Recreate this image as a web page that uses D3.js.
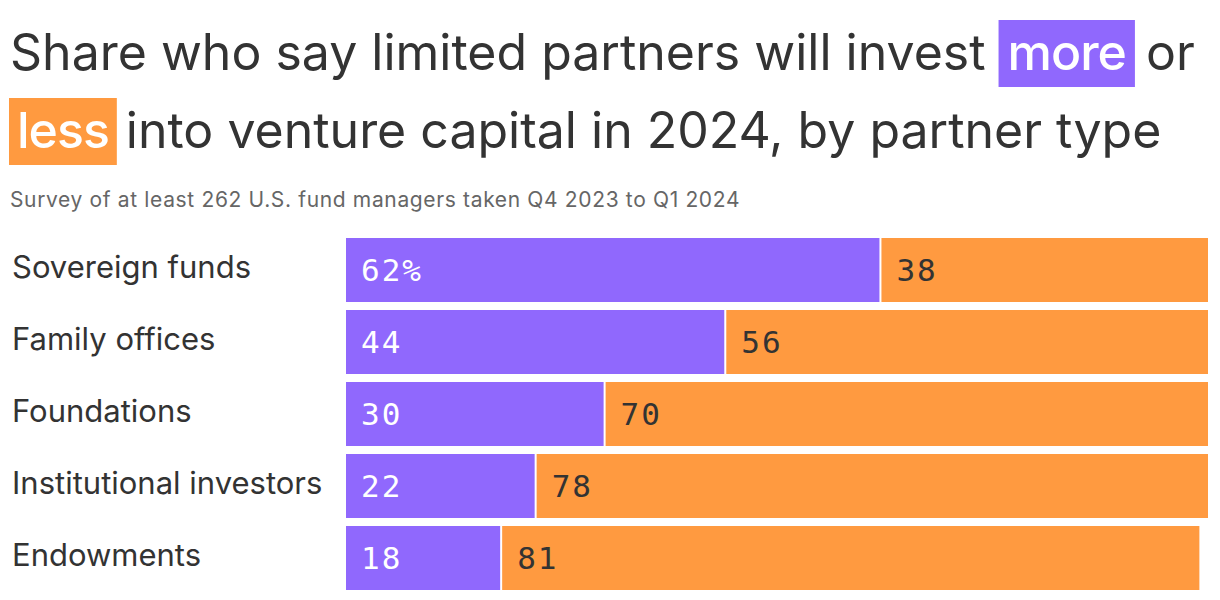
<!DOCTYPE html>
<html>
<head>
<meta charset="utf-8">
<script src="https://cdn.jsdelivr.net/npm/d3@7"></script>
<style>
  body { margin: 0; background: #fff; }
  svg { display: block; }
</style>
</head>
<body>
<svg id="chart"></svg>
<script>
// data
var categories = ["Sovereign funds", "Family offices", "Foundations", "Institutional investors", "Endowments"];
var moreValues = [62, 44, 30, 22, 18];
var lessValues = [38, 56, 70, 78, 81];

var W = 1220, H = 600;
var purple = "#9068fd", orange = "#ff9a40", ink = "#333333";

var svg = d3.select("#chart").attr("width", W).attr("height", H);

// title, highlighted words get a coloured box behind them
var titleLines = [
  [{t: "Share who say limited partners will invest"}, {t: "more", hl: purple, dx: 22}, {t: "or", dx: 20}],
  [{t: "less", hl: orange, dx: 7}, {t: "into venture capital in 2024, by partner type", dx: 17}]
];
var pad = [9, 8];
var bgG = svg.append("g");
var titleG = svg.append("g");
titleLines.forEach(function(parts, i) {
  var txt = titleG.append("text")
    .attr("x", 10)
    .attr("y", 70 + i * 78)
    .style("font-family", "Inter, sans-serif")
    .style("font-size", "50px")
    .style("fill", ink);
  parts.forEach(function(p) {
    var ts = txt.append("tspan").text(p.t);
    if (p.dx) ts.attr("dx", p.dx);
    if (p.hl) {
      ts.style("fill", "#fff").style("font-weight", 500).style("letter-spacing", "-1px");
      p.node = ts;
    }
  });
  parts.forEach(function(p) {
    if (!p.hl) return;
    var b = p.node.node().getBBox();
    bgG.append("rect")
      .attr("x", b.x - pad[i])
      .attr("y", 20 + i * 78)
      .attr("width", b.width + 2 * pad[i])
      .attr("height", 67)
      .attr("fill", p.hl);
  });
});

svg.append("text")
  .attr("x", 10)
  .attr("y", 207)
  .style("font-family", "Inter, sans-serif")
  .style("font-size", "21px")
  .style("letter-spacing", "0.65px")
  .style("fill", "#666")
  .text("Survey of at least 262 U.S. fund managers taken Q4 2023 to Q1 2024");

// scales
var x = d3.scaleLinear().domain([0, 100]).range([346, 1208]);
var y = d3.scaleBand().domain(categories).range([238, 590]).paddingInner(8 / 72).paddingOuter(0);

var rows = categories.map(function(c, i) {
  return {cat: c, more: moreValues[i], less: lessValues[i], i: i};
});

var row = svg.selectAll(".row").data(rows).join("g").attr("class", "row");

row.append("rect")
  .attr("x", x(0))
  .attr("y", function(d) { return y(d.cat); })
  .attr("width", function(d) { return x(d.more) - x(0) - 1; })
  .attr("height", y.bandwidth())
  .attr("fill", purple);

row.append("rect")
  .attr("x", function(d) { return x(d.more) + 1; })
  .attr("y", function(d) { return y(d.cat); })
  .attr("width", function(d) { return x(d.more + d.less) - x(d.more) - 1; })
  .attr("height", y.bandwidth())
  .attr("fill", orange);

row.append("text")
  .attr("x", function(d) { return x(0) + 15; })
  .attr("y", function(d) { return y(d.cat) + y.bandwidth() / 2; })
  .attr("dy", "0.36em")
  .style("font-family", "'DejaVu Sans Mono', monospace")
  .style("font-size", "31px")
  .style("letter-spacing", "2px")
  .style("fill", "#fff")
  .text(function(d) { return d.i == 0 ? d.more + "%" : d.more; });

row.append("text")
  .attr("x", function(d) { return x(d.more) + 16; })
  .attr("y", function(d) { return y(d.cat) + y.bandwidth() / 2; })
  .attr("dy", "0.36em")
  .style("font-family", "'DejaVu Sans Mono', monospace")
  .style("font-size", "31px")
  .style("letter-spacing", "2px")
  .style("fill", ink)
  .text(function(d) { return d.less; });

row.append("text")
  .attr("x", 12)
  .attr("y", function(d) { return y(d.cat) + y.bandwidth() / 2; })
  .attr("dy", "0.25em")
  .style("font-family", "Inter, sans-serif")
  .style("font-size", "31px")
  .style("fill", ink)
  .text(function(d) { return d.cat; });
</script>
</body>
</html>
